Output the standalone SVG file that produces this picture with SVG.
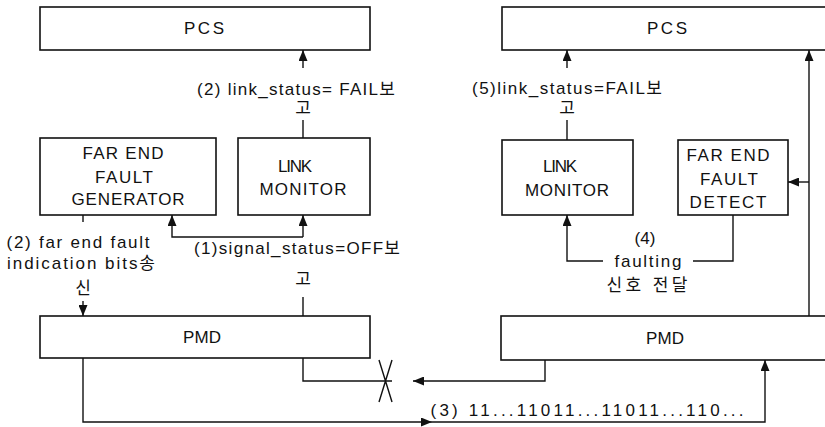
<svg xmlns="http://www.w3.org/2000/svg" width="825" height="427" viewBox="0 0 825 427">
  <style>
    .box { fill: #fff; stroke: #111; stroke-width: 1.6; }
    .wire { fill: none; stroke: #111; stroke-width: 1.4; }
    text { font-family: "Liberation Sans", "Noto Sans CJK KR", sans-serif; fill: #111; dominant-baseline: central; text-anchor: middle; }
    .node { font-size: 17px; }
    .lbl { font-size: 17px; }
  </style>
  <defs>
    <marker id="arrowBig" viewBox="0 0 10 10" refX="10" refY="5" markerWidth="11" markerHeight="9" markerUnits="userSpaceOnUse" orient="auto" preserveAspectRatio="none">
      <path d="M0,0 L10,5 L0,10 z" fill="#111"/>
    </marker>
  </defs>

  <rect width="825" height="427" fill="#fff"/>

  <!-- left station -->
  <g id="pcs-left">
    <rect class="box" x="40" y="7" width="330" height="43"/>
    <text class="node" x="204" y="28" textLength="40" lengthAdjust="spacing">PCS</text>
  </g>
  <g id="feg-left">
    <rect class="box" x="40" y="138" width="176" height="77"/>
    <text class="node" x="123" y="153" textLength="81" lengthAdjust="spacing">FAR END</text>
    <text class="node" x="124" y="177" textLength="58" lengthAdjust="spacing">FAULT</text>
    <text class="node" x="128" y="199" textLength="113" lengthAdjust="spacing">GENERATOR</text>
  </g>
  <g id="lm-left">
    <rect class="box" x="238" y="138" width="132" height="77"/>
    <text class="node" x="295" y="166" textLength="34" lengthAdjust="spacing">LINK</text>
    <text class="node" x="303" y="189" textLength="87" lengthAdjust="spacing">MONITOR</text>
  </g>
  <g id="pmd-left">
    <rect class="box" x="40" y="316" width="330" height="42"/>
    <text class="node" x="202" y="337" textLength="38" lengthAdjust="spacing">PMD</text>
  </g>

  <!-- right station -->
  <g id="pcs-right">
    <rect class="box" x="502" y="7" width="330" height="43"/>
    <text class="node" x="667" y="28" textLength="40" lengthAdjust="spacing">PCS</text>
  </g>
  <g id="lm-right">
    <rect class="box" x="502" y="140" width="131" height="75"/>
    <text class="node" x="560" y="166" textLength="34" lengthAdjust="spacing">LINK</text>
    <text class="node" x="567" y="190" textLength="84" lengthAdjust="spacing">MONITOR</text>
  </g>
  <g id="fefd-right">
    <rect class="box" x="678" y="140" width="110" height="75"/>
    <text class="node" x="728" y="155" textLength="83" lengthAdjust="spacing">FAR END</text>
    <text class="node" x="729" y="179" textLength="58" lengthAdjust="spacing">FAULT</text>
    <text class="node" x="728" y="202" textLength="77" lengthAdjust="spacing">DETECT</text>
  </g>
  <g id="pmd-right">
    <rect class="box" x="501" y="316" width="330" height="44"/>
    <text class="node" x="665" y="338" textLength="38" lengthAdjust="spacing">PMD</text>
  </g>

  <!-- connectors -->
  <g id="connectors">
    <!-- left link monitor reports to PCS -->
    <path class="wire" d="M303,138 V120"/>
    <path class="wire" d="M303,68 V50" marker-end="url(#arrowBig)"/>
    <!-- left PMD signal status to generator and link monitor -->
    <path class="wire" d="M303,316 V297"/>
    <path class="wire" d="M303,237 H172 V215" marker-end="url(#arrowBig)"/>
    <path class="wire" d="M303,237 V215" marker-end="url(#arrowBig)"/>
    <!-- generator sends indication bits to PMD -->
    <path class="wire" d="M83,215 V222"/>
    <path class="wire" d="M83,301 V316" marker-end="url(#arrowBig)"/>
    <!-- broken receive path at left PMD -->
    <path class="wire" d="M303,358 V381 H392"/>
    <path class="wire" d="M379,360 L392,402 M392,360 L379,402"/>
    <!-- right PMD transmit, cut before reaching left -->
    <path class="wire" d="M545,360 V381 H413" marker-end="url(#arrowBig)"/>
    <!-- left PMD transmit to right PMD -->
    <path class="wire" d="M83,358 V422 H432" marker-end="url(#arrowBig)"/>
    <path class="wire" d="M432,422 H765 V360" marker-end="url(#arrowBig)"/>
    <!-- right PMD to PCS and far end fault detect -->
    <path class="wire" d="M809,316 V50" marker-end="url(#arrowBig)"/>
    <path class="wire" d="M809,182 H788" marker-end="url(#arrowBig)"/>
    <!-- faulting signal from detector to link monitor -->
    <path class="wire" d="M603,261 H567 V215" marker-end="url(#arrowBig)"/>
    <path class="wire" d="M693,261 H733 V215"/>
    <!-- right link monitor reports to PCS -->
    <path class="wire" d="M567,140 V120"/>
    <path class="wire" d="M567,68 V50" marker-end="url(#arrowBig)"/>
  </g>

  <!-- labels -->
  <g id="labels">
    <text class="lbl" x="296" y="89" textLength="198" lengthAdjust="spacing">(2) link_status= FAIL보</text>
    <text class="lbl" x="303" y="108">고</text>
    <text class="lbl" x="567" y="88" textLength="190" lengthAdjust="spacing">(5)link_status=FAIL보</text>
    <text class="lbl" x="567" y="108">고</text>
    <text class="lbl" x="297" y="248" textLength="206" lengthAdjust="spacing">(1)signal_status=OFF보</text>
    <text class="lbl" x="303" y="279">고</text>
    <text class="lbl" x="78" y="242" textLength="143" lengthAdjust="spacing">(2) far end fault</text>
    <text class="lbl" x="81" y="263" textLength="148" lengthAdjust="spacing">indication bits송</text>
    <text class="lbl" x="83" y="288">신</text>
    <text class="lbl" x="645" y="238">(4)</text>
    <text class="lbl" x="648" y="261" textLength="67" lengthAdjust="spacing">faulting</text>
    <text class="lbl" x="647" y="285" textLength="81" lengthAdjust="spacing">신호 전달</text>
    <text class="lbl" x="587" y="410" textLength="313" lengthAdjust="spacing">(3) 11...11011...11011...110...</text>
  </g>
</svg>
